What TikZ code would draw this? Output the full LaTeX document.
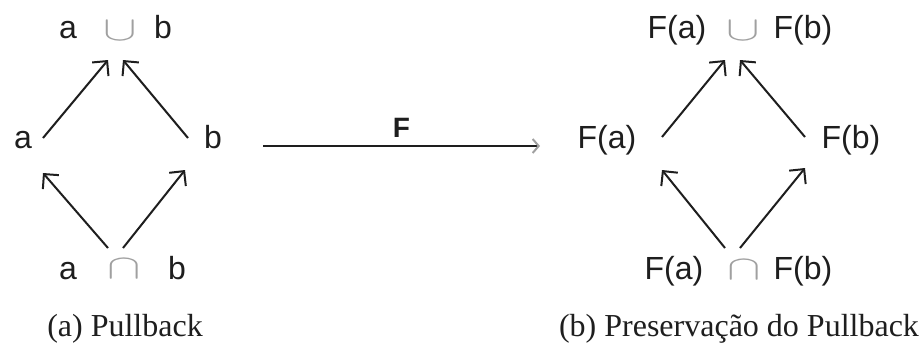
\documentclass[tikz,border=0pt]{standalone}
\usepackage{fontspec}
\setmainfont{Liberation Serif}
\setsansfont{Liberation Sans}
\usetikzlibrary{arrows.meta}
\definecolor{ink}{RGB}{30,30,30}
\definecolor{faint}{RGB}{160,160,160}

\tikzset{
  obj/.style={font=\sffamily\fontsize{16}{19}\selectfont, text=ink, inner sep=0pt,
    text height=0.75em, text depth=0.2em},
  setop/.style={font=\fontsize{18}{18}\selectfont, text=faint, inner sep=0pt},
  mor/.style={draw=ink, line width=1pt, -{Straight Barb[length=5.3pt,width=10.6pt]}},
  functor/.style={draw=ink, line width=1pt,
    -{Straight Barb[length=3pt,width=7pt,color=faint]}},
  subcap/.style={font=\fontsize{16}{19}\selectfont, text=ink, inner sep=0pt, anchor=base}
}
\newcommand{\wideop}[1]{\scalebox{1.45}[1]{$#1$}}

\begin{document}
\begin{tikzpicture}[x=0.5pt,y=-0.5pt]
  \useasboundingbox (0,0) rectangle (920,344);

  % (a) the square in the source category
  \node[obj] (ta) at (68,33) {a};
  \node[setop] (tu) at (120,31) {\wideop{\cup}};
  \node[obj] (tb) at (163,33) {b};
  \node[obj] (ma) at (23,143) {a};
  \node[obj] (mb) at (213,143) {b};
  \node[obj] (ba) at (68,274) {a};
  \node[setop] (bc) at (124,269) {\wideop{\cap}};
  \node[obj] (bb) at (177,274) {b};

  \draw[mor] ([shift={(20,-5)}]ma.center) -- ([shift={(-12,29)}]tu.center);
  \draw[mor] ([shift={(-25,-5)}]mb.center) -- ([shift={(3,29)}]tu.center);
  \draw[mor] ([shift={(-16,-21)}]bc.center) -- ([shift={(20,30)}]ma.center);
  \draw[mor] ([shift={(-1,-21)}]bc.center) -- ([shift={(-28,27)}]mb.center);

  % (b) its image under F
  \node[obj] (tFa) at (677,33) {F(a)};
  \node[setop] (tu2) at (743,31) {\wideop{\cup}};
  \node[obj] (tFb) at (803,33) {F(b)};
  \node[obj] (mFa) at (607,143) {F(a)};
  \node[obj] (mFb) at (851,143) {F(b)};
  \node[obj] (bFa) at (674,274) {F(a)};
  \node[setop] (bc2) at (744,270) {\wideop{\cap}};
  \node[obj] (bFb) at (803,274) {F(b)};

  \draw[mor] ([shift={(55,-6)}]mFa.center) -- ([shift={(-18,29)}]tu2.center);
  \draw[mor] ([shift={(-46,-6)}]mFb.center) -- ([shift={(-3,29)}]tu2.center);
  \draw[mor] ([shift={(-19,-22)}]bc2.center) -- ([shift={(55,27)}]mFa.center);
  \draw[mor] ([shift={(-4,-22)}]bc2.center) -- ([shift={(-46,25)}]mFb.center);

  % the functor
  \draw[functor] ([shift={(50,3)}]mb.center) -- ([shift={(-67,3)}]mFa.center)
    node[midway, above=4pt, inner sep=0pt, font=\sffamily\bfseries\fontsize{14}{16}\selectfont, text=ink] (F) {F};

  \node[subcap] (capa) at (125,336) {(a) Pullback};
  \node[subcap] (capb) at (739,336) {(b) Preservação do Pullback};
\end{tikzpicture}
\end{document}
